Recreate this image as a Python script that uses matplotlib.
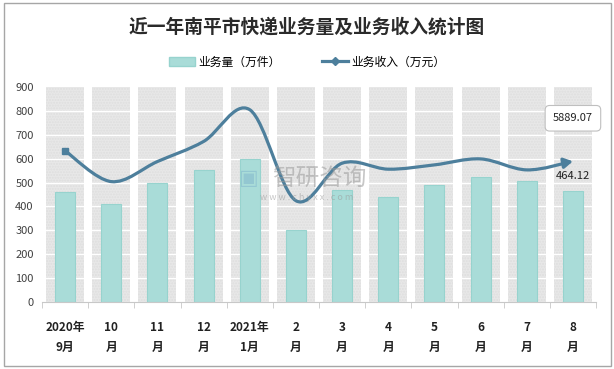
import numpy as np
import matplotlib
matplotlib.use("Agg")
import matplotlib.pyplot as plt
from matplotlib.path import Path
from matplotlib.patches import FancyArrowPatch, Rectangle
from matplotlib.lines import Line2D

plt.rcParams['font.family'] = ['Noto Sans CJK SC', 'DejaVu Sans']

# data
months = ['2020年\n9月', '10\n月', '11\n月', '12\n月', '2021年\n1月', '2\n月',
          '3\n月', '4\n月', '5\n月', '6\n月', '7\n月', '8\n月']
volume = [460, 410, 500, 553, 600, 300, 468, 438, 489, 525, 506, 464.12]      # 万件
revenue = [6330, 5040, 5880, 6720, 8050, 4240, 5810, 5560, 5740, 5990, 5530, 5889.07]  # 万元

bar_color = '#a9dcd8'
line_color = '#4d7f9c'

fig = plt.figure(figsize=(6.14, 3.69), dpi=100)
ax = fig.add_axes([0.0684, 0.1816, 0.9023, 0.5826])
x = np.arange(len(months))

# gray background bands for each category
for xi in x:
    ax.add_patch(Rectangle((xi - 0.41, 0), 0.82, 900, facecolor='#e8e8e8',
                           edgecolor='#dedede', hatch='......', lw=0, zorder=0))
for yv in range(100, 900, 100):
    ax.axhline(yv, color='white', lw=1.0, zorder=1)

ax.bar(x, volume, width=0.43, color=bar_color, edgecolor='#97d3ce', lw=0.8, zorder=2)

ax.set_xlim(-0.5, len(months) - 0.5)
ax.set_ylim(0, 900)
ax.set_yticks(range(0, 901, 100))
ax.tick_params(axis='y', length=0, labelsize=8, labelcolor='#404040', pad=6)
ax.set_xticks(x)
ax.set_xticklabels(months, fontsize=8.5, fontweight='bold', color='#222222', linespacing=1.7)
ax.tick_params(axis='x', length=0, pad=14)
ax.set_xticks(np.arange(-0.5, len(months), 1), minor=True)
ax.tick_params(axis='x', which='minor', length=4, color='#c8c8c8')
for s in ['top', 'right', 'left']:
    ax.spines[s].set_visible(False)
ax.spines['bottom'].set_color('#c8c8c8')

# revenue line on hidden secondary axis, smoothed like Excel
ax2 = ax.twinx()
ax2.set_ylim(0, 9000)
ax2.axis('off')
pts = np.column_stack([x, revenue]).astype(float)
verts = [pts[0]]
codes = [Path.MOVETO]
n = len(pts)
for i in range(n - 1):
    p0 = pts[max(i - 1, 0)]
    p1 = pts[i]
    p2 = pts[i + 1]
    p3 = pts[min(i + 2, n - 1)]
    c1 = p1 + (p2 - p0) / 6
    c2 = p2 - (p3 - p1) / 6
    verts += [c1, c2, p2]
    codes += [Path.CURVE4] * 3
curve = FancyArrowPatch(path=Path(verts, codes), arrowstyle='-|>,head_length=2.6,head_width=1.5',
                        color=line_color, lw=2.3, mutation_scale=2, transform=ax2.transData,
                        zorder=4)
ax2.add_patch(curve)
ax2.plot(x[0], revenue[0], marker='s', ms=4.5, color=line_color, zorder=5)

ax2.annotate(f'{revenue[-1]:.2f}', xy=(x[-1], revenue[-1]), xytext=(0, 31),
             textcoords='offset points', ha='center', va='center', fontsize=8,
             color='#222222',
             bbox=dict(boxstyle='round,pad=0.7,rounding_size=0.4', fc='white', ec='#bfbfbf', lw=0.8))
ax.annotate(f'{volume[-1]:.2f}', xy=(x[-1], volume[-1]), xytext=(0, 7),
            textcoords='offset points', ha='center', va='bottom', fontsize=8, color='#222222',
            zorder=6)

# title and legend
fig.text(0.5, 0.927, '近一年南平市快递业务量及业务收入统计图', ha='center', va='center',
         fontsize=13.5, fontweight='bold', color='#2a2a2a')
handles = [Rectangle((0, 0), 1, 1, fc=bar_color, ec='#97d3ce'),
           Line2D([0], [0], color=line_color, lw=2.3, marker='D', ms=4)]
fig.legend(handles, ['业务量（万件）', '业务收入（万元）'], loc='center',
           bbox_to_anchor=(0.5, 0.832), ncol=2, frameon=False, fontsize=8.5,
           handlelength=2.2, handleheight=0.8, columnspacing=3.5, handletextpad=0.3)

# watermark
fig.text(0.443, 0.515, '智研咨询', fontsize=17, color='#9a9a9a', alpha=0.55, ha='left', va='center')
fig.text(0.388, 0.518, '▣', fontsize=15, color='#7fb4cc', alpha=0.5, ha='left', va='center',
         family=['DejaVu Sans'])
fig.text(0.5, 0.466, 'w w w . c h y x x . c o m', fontsize=6.5, color='#9a9a9a', alpha=0.55,
         ha='center', va='center')

# outer border
fig.add_artist(Rectangle((0.006, 0.008), 0.989, 0.984, transform=fig.transFigure,
                         fill=False, ec='#a6a6a6', lw=1))

fig.savefig('out.png', dpi=100)
